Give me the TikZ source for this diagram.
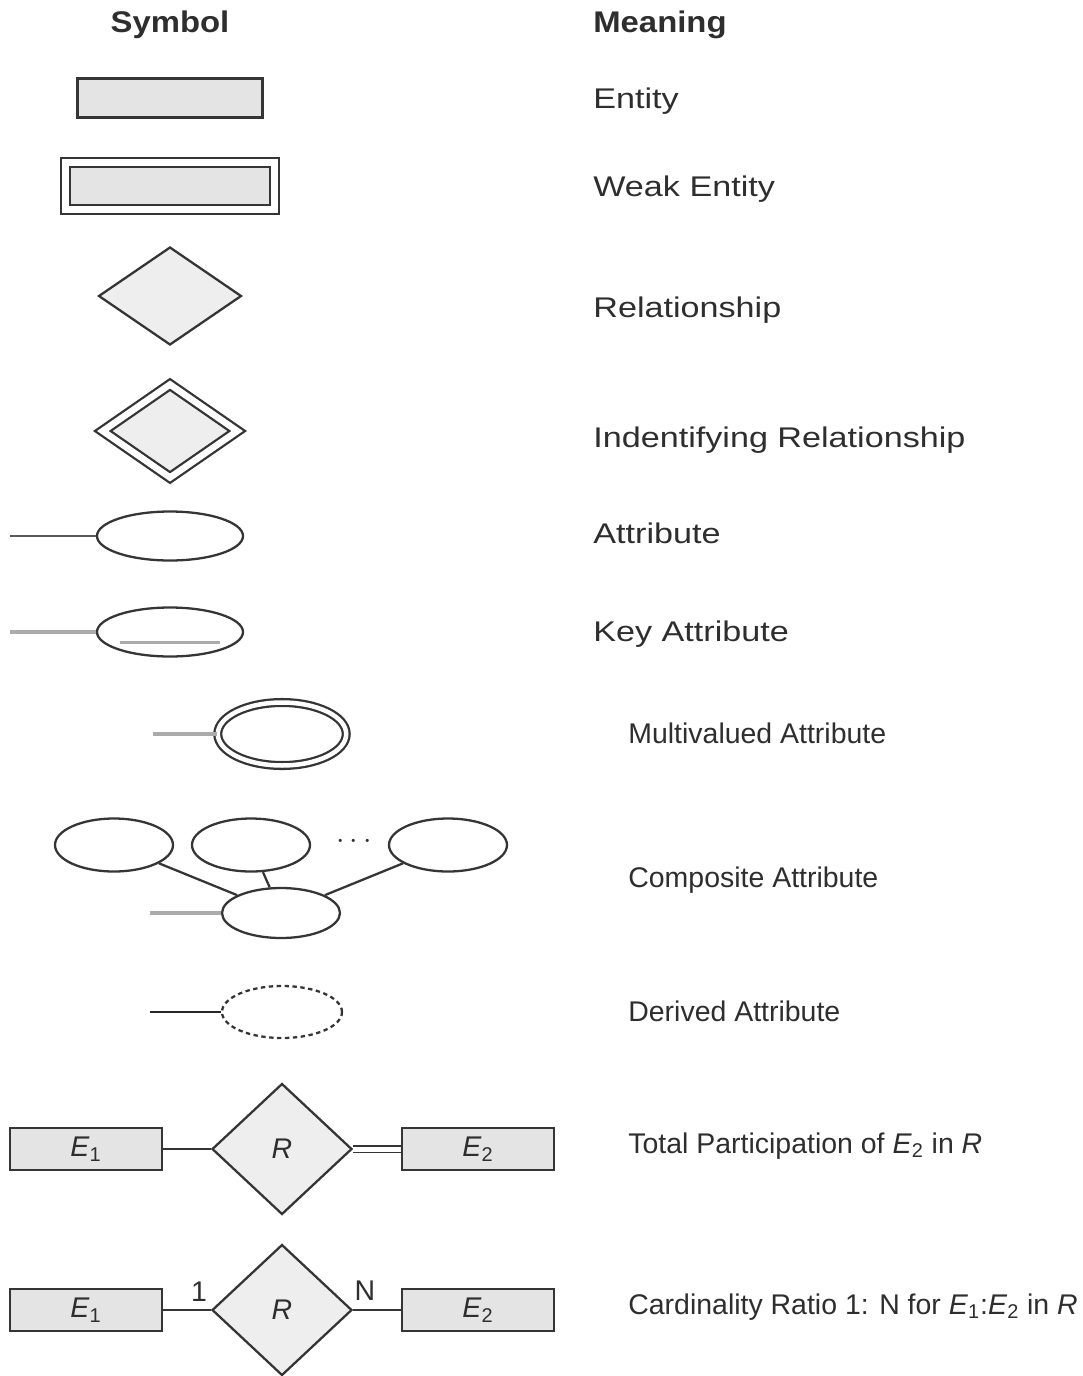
\documentclass[tikz,border=0pt]{standalone}
\usepackage{fontspec}
\setmainfont{Liberation Sans}
\newfontfamily\widefont[FakeStretch=1.2]{Liberation Sans}
\newfontfamily\headfont[FakeStretch=1.1]{Liberation Sans}
\usetikzlibrary{shapes.geometric,positioning}

\definecolor{edgegray}{HTML}{353535}
\definecolor{boxgray}{HTML}{E4E4E4}
\definecolor{diagray}{HTML}{EEEEEE}
\definecolor{linkgray}{HTML}{ABABAB}
\definecolor{textgray}{HTML}{2E2E2E}

\begin{document}
\begin{tikzpicture}[
    x=0.02cm, y=-0.02cm,
    entity/.style={rectangle, draw=edgegray, fill=boxgray, line width=1.3pt, minimum width=3.7cm, minimum height=0.78cm, inner sep=0pt},
    weakentity/.style={entity, double, double distance=0.14cm, minimum width=4.18cm, minimum height=0.94cm},
    relationship/.style={diamond, draw=edgegray, fill=diagray, line width=1.3pt, minimum width=2.86cm, minimum height=1.96cm, inner sep=0pt},
    identrel/.style={relationship, double, double distance=0.13cm, minimum width=2.71cm, minimum height=1.88cm},
    attribute/.style={ellipse, draw=edgegray, line width=1.3pt, minimum width=2.92cm, minimum height=0.98cm, inner sep=0pt},
    multivalued/.style={attribute, double, double distance=0.09cm, minimum width=2.57cm, minimum height=1.26cm},
    subattr/.style={attribute, minimum width=2.36cm, minimum height=1.06cm},
    derived/.style={attribute, dash pattern=on 2.5pt off 2pt, minimum width=2.4cm, minimum height=1.04cm},
    erbox/.style={entity, minimum width=3.04cm, minimum height=0.84cm, font=\fontsize{16.2}{19}\selectfont, text=textgray},
    bigrel/.style={relationship, minimum width=2.8cm, minimum height=2.62cm, font=\fontsize{16.2}{19}\selectfont, text=textgray},
    link/.style={draw=edgegray, line width=1.3pt},
    paleline/.style={draw=linkgray, line width=2pt},
    head/.style={anchor=base, inner sep=0pt, font=\headfont\fontsize{17}{20}\selectfont\bfseries, text=textgray},
    meaning/.style={anchor=base west, inner sep=0pt, font=\widefont\fontsize{16.2}{19}\selectfont, text=textgray},
    meaningsm/.style={anchor=base west, inner sep=0pt, font=\fontsize{16.2}{19}\selectfont, text=textgray},
    card/.style={font=\fontsize{16.2}{19}\selectfont, text=textgray}
]
\useasboundingbox (0,0) rectangle (1082,1376);

% Headers
\node[head] (symhead) at (170,32) {Symbol};
\node[head, anchor=base west] (meanhead) at (593,32) {Meaning};

% Entities
\node[entity] (entity) at (170,98) {};
\node[weakentity] (weak) at (170,186) {};

% Relationships
\node[relationship] (rel) at (170,296) {};
\node[identrel] (identrel) at (170,431) {};

% Attributes
\coordinate (attrtail) at (10,536);
\node[attribute] (attr) at (170,536) {};
\draw[link, draw=black!65] (attrtail) -- (attr);

\coordinate (keytail) at (10,632);
\node[attribute] (key) at (170,632) {};
\draw[paleline] (keytail) -- (key);
\draw[paleline] ([xshift=-1cm, yshift=-0.21cm]key.center) -- ([xshift=1cm, yshift=-0.21cm]key.center);

\coordinate (multitail) at (153,734);
\node[multivalued] (multi) at (282,734) {};
\draw[paleline] (multitail) -- (multi);

% Composite attribute
\node[subattr] (partA) at (114,845) {};
\node[subattr] (partB) at (251,845) {};
\node[subattr] (partC) at (448,845) {};
\node[card] (dots) at (354,842) {$\cdots$};
\node[subattr, minimum height=1.0cm] (whole) at (281,913) {};
\coordinate (wholetail) at (150,913);
\draw[link] (partA) -- (whole);
\draw[link] (partB) -- (whole);
\draw[link] (partC) -- (whole);
\draw[paleline] (wholetail) -- (whole);

% Derived attribute
\coordinate (derivtail) at (150,1012);
\node[derived] (deriv) at (282,1012) {};
\draw[link, draw=black!85] (derivtail) -- (deriv);

% Total participation
\node[erbox] (eA) at (86,1149) {\textit{E}\textsubscript{1}};
\node[bigrel] (relA) at (282,1149) {\textit{R}};
\node[erbox] (eB) at (478,1149) {\textit{E}\textsubscript{2}};
\draw[link] (eA) -- (relA);
\draw[link, line width=1.1pt, double, double distance=0.1cm] (relA) -- (eB);

% Cardinality ratio
\node[erbox] (eC) at (86,1310) {\textit{E}\textsubscript{1}};
\node[bigrel] (relB) at (282,1310) {\textit{R}};
\node[erbox] (eD) at (478,1310) {\textit{E}\textsubscript{2}};
\draw[link] (eC) -- (relB);
\draw[link] (relB) -- (eD);
\node[card] (one) at (199,1292) {1};
\node[card] (many) at (365,1291) {N};

% Meanings
\node[meaning] (mEntity) at (593,108) {Entity};
\node[meaning] (mWeak) at (593,196) {Weak Entity};
\node[meaning] (mRel) at (593,317) {Relationship};
\node[meaning] (mIdent) at (593,447) {Indentifying Relationship};
\node[meaning] (mAttr) at (593,543) {Attribute};
\node[meaning] (mKey) at (593,641) {Key Attribute};
\node[meaningsm] (mMulti) at (628,743) {Multivalued Attribute};
\node[meaningsm] (mComp) at (628,887) {Composite Attribute};
\node[meaningsm] (mDeriv) at (628,1021) {Derived Attribute};
\node[meaningsm] (mTotal) at (628,1153) {Total Participation of \textit{E}\textsubscript{2} in \textit{R}};
\node[meaningsm] (mCard) at (628,1314) {Cardinality Ratio 1: N for \textit{E}\textsubscript{1}:\textit{E}\textsubscript{2} in \textit{R}};

\end{tikzpicture}
\end{document}
